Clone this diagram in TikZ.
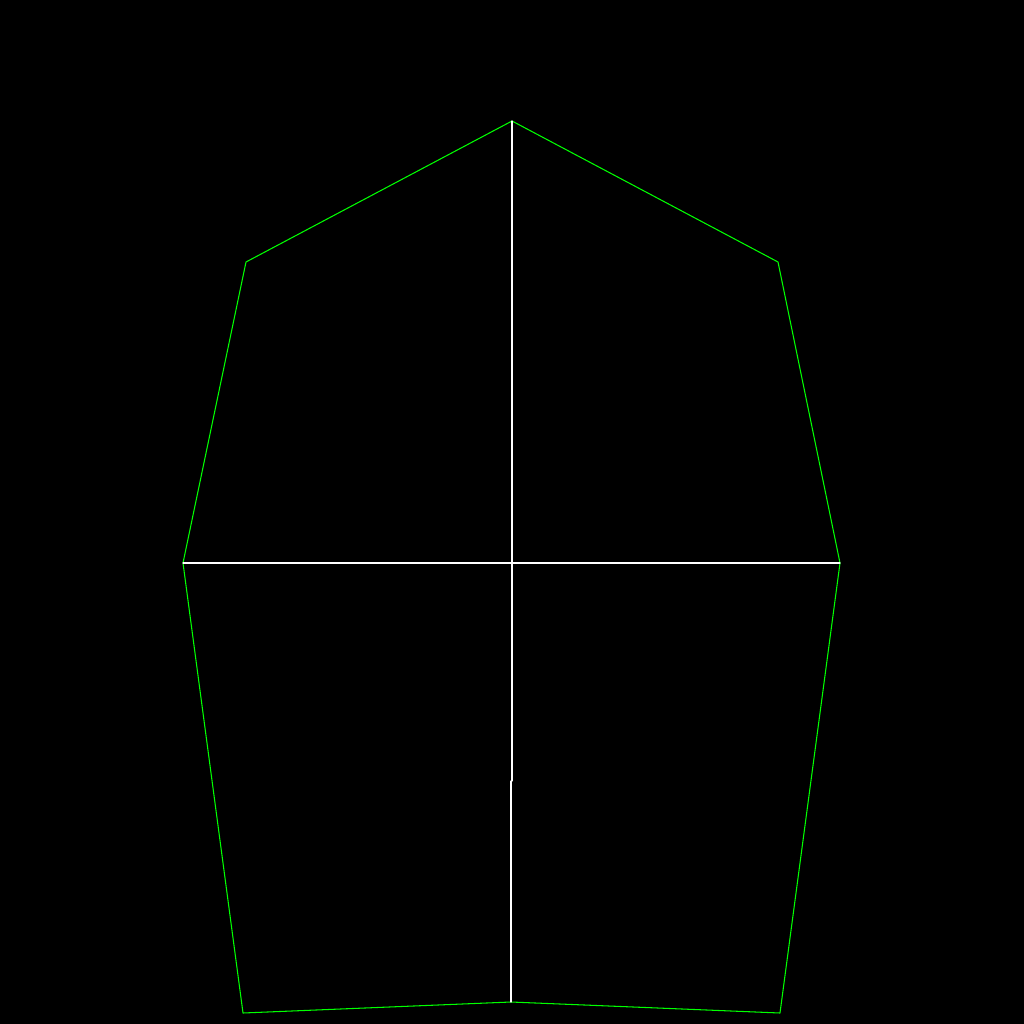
\documentclass[tikz,border=0pt]{standalone}
\begin{document}
\begin{tikzpicture}[x=0.01cm, y=-0.01cm, line cap=round, line join=round]
  \definecolor{outlineGreen}{HTML}{00FF00}
  \definecolor{axisWhite}{HTML}{FFFFFF}
  \tikzset{outline/.style={draw=outlineGreen, line width=0.3pt},
    axis/.style={draw=axisWhite, line width=0.3pt}}
  \fill[black] (0,0) rectangle (1024,1024);
  \useasboundingbox (0,0) rectangle (1024,1024);

  \foreach \name/\px/\py in {
    apex/512/121, shoulderR/778/262, waistR/840/563, footR/780/1013,
    notch/511/1002, footL/243/1013, waistL/183/563, shoulderL/246/262}{
    \coordinate (\name) at (\px,\py);
  }
  \coordinate (jogTop) at (512,781);
  \coordinate (jogBot) at (511,781);

  \draw[outline] (apex) -- (shoulderR) -- (waistR) -- (footR) -- (notch)
    -- (footL) -- (waistL) -- (shoulderL) -- cycle;

  \draw[axis] (waistL) -- (waistR);
  \draw[axis] (apex) -- (jogTop);
  \draw[axis] (jogBot) -- (notch);
\end{tikzpicture}
\end{document}
